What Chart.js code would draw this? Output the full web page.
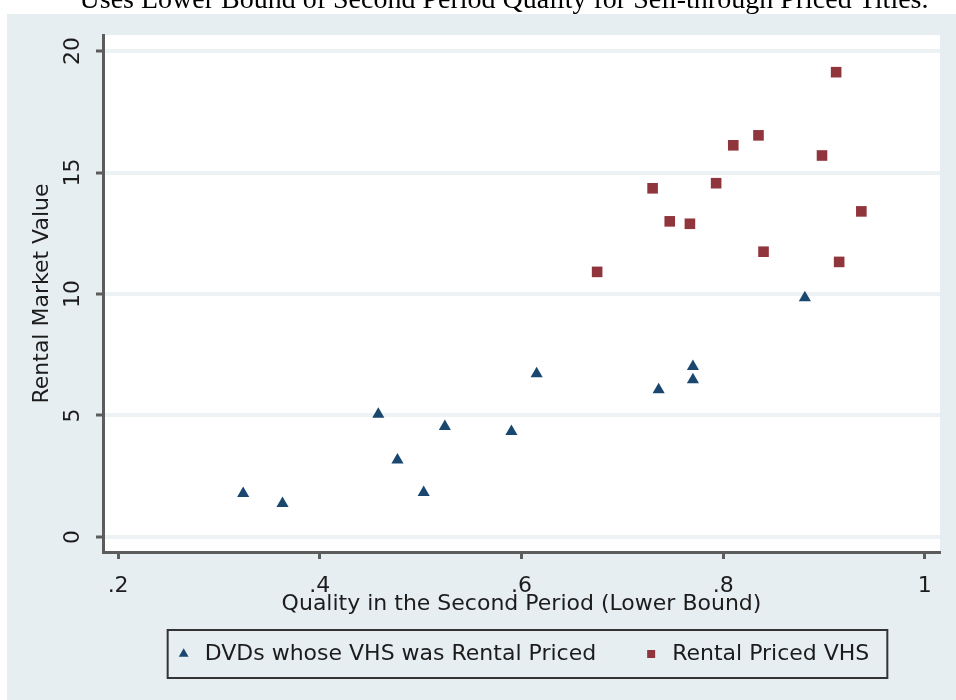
<!DOCTYPE html>
<html>
<head>
<meta charset="utf-8">
<script src="https://cdn.jsdelivr.net/npm/chart.js@4/dist/chart.umd.min.js"></script>
<style>
  html, body { margin: 0; padding: 0; background: #ffffff; }
  #wrap { width: 956px; height: 700px; }
</style>
</head>
<body>
<div id="wrap"><canvas id="scatterChart" width="956" height="700"></canvas></div>
<script>
// Data
const dvdQuality = [0.324, 0.363, 0.458, 0.477, 0.503, 0.524, 0.590, 0.615, 0.736, 0.770, 0.770, 0.881];
const dvdValue   = [1.79, 1.38, 5.05, 3.17, 1.83, 4.55, 4.34, 6.72, 6.06, 7.02, 6.47, 9.85];

const vhsQuality = [0.675, 0.730, 0.747, 0.767, 0.793, 0.810, 0.835, 0.840, 0.898, 0.912, 0.915, 0.937];
const vhsValue   = [10.91, 14.35, 12.99, 12.89, 14.56, 16.12, 16.53, 11.74, 15.70, 19.13, 11.32, 13.40];

const xTicks = [0.2, 0.4, 0.6, 0.8, 1.0];
const xTickLabels = ['.2', '.4', '.6', '.8', '1'];
const yTicks = [0, 5, 10, 15, 20];

const seriesNames = ['DVDs whose VHS was Rental Priced', 'Rental Priced VHS'];
const captionText = 'Uses Lower Bound of Second Period Quality for Sell-through Priced Titles.';

const navy = '#1a476f';
const maroon = '#90353b';
const frameBg = '#e6eef2';
const gridCol = '#edf2f5';
const axisCol = '#5c5c5c';
const textCol = '#1c1c1c';
const fontFam = "'DejaVu Sans', 'Verdana', sans-serif";

function toPoints(xs, ys) {
    return xs.map((x, i) => ({ x: x, y: ys[i] }));
}

// backgrounds + clipped caption at the very top
const backdrop = {
    id: 'backdrop',
    beforeDraw(chart) {
        const ctx = chart.ctx;
        const a = chart.chartArea;
        ctx.save();
        ctx.fillStyle = '#ffffff';
        ctx.fillRect(0, 0, chart.width, chart.height);
        ctx.fillStyle = frameBg;
        ctx.fillRect(7, 14, chart.width - 7, chart.height - 14);
        ctx.fillStyle = '#ffffff';
        ctx.fillRect(a.left, a.top, a.right - a.left, a.bottom - a.top);

        ctx.fillStyle = '#000000';
        ctx.font = "28px 'Liberation Serif', 'DejaVu Serif', serif";
        ctx.textAlign = 'center';
        ctx.textBaseline = 'alphabetic';
        ctx.fillText(captionText, 504, 8);
        ctx.restore();
    }
};

// framed legend like Stata's
const legendFrame = {
    id: 'legendFrame',
    afterDraw(chart) {
        const hb = chart.legend && chart.legend.legendHitBoxes;
        if (!hb || !hb.length) return;
        const first = hb[0];
        const last = hb[hb.length - 1];
        const left = first.left - 6;
        const right = last.left + last.width + 18;
        const top = first.top - 13;
        const bottom = first.top + first.height + 13;
        const ctx = chart.ctx;
        ctx.save();
        ctx.strokeStyle = '#333333';
        ctx.lineWidth = 2;
        ctx.strokeRect(left, top, right - left, bottom - top);
        ctx.restore();
    }
};

const scatterChart = new Chart(document.getElementById('scatterChart'), {
    type: 'scatter',
    data: {
        datasets: [
            {
                label: seriesNames[0],
                data: toPoints(dvdQuality, dvdValue),
                pointStyle: 'triangle',
                pointRadius: 7,
                pointHoverRadius: 7,
                backgroundColor: navy,
                borderColor: navy,
                borderWidth: 0
            },
            {
                label: seriesNames[1],
                data: toPoints(vhsQuality, vhsValue),
                pointStyle: 'rect',
                pointRadius: 7.5,
                pointHoverRadius: 7.5,
                backgroundColor: maroon,
                borderColor: maroon,
                borderWidth: 0
            }
        ]
    },
    plugins: [backdrop, legendFrame],
    options: {
        responsive: false,
        animation: false,
        devicePixelRatio: 1,
        layout: { padding: { left: 0, right: 16, top: 35, bottom: 25 } },
        plugins: {
            tooltip: { enabled: false },
            title: { display: false },
            legend: {
                display: true,
                position: 'bottom',
                fullSize: false,
                labels: {
                    usePointStyle: true,
                    boxWidth: 20,
                    boxHeight: 8,
                    padding: 45,
                    color: textCol,
                    font: { family: fontFam, size: 22 }
                }
            }
        },
        scales: {
            x: {
                type: 'linear',
                position: 'bottom',
                min: 0.185,
                max: 1.015,
                afterBuildTicks: s => { s.ticks = xTicks.map(v => ({ value: v })); },
                afterFit: s => { s.height = 46; },
                ticks: {
                    color: textCol,
                    padding: 14,
                    font: { family: fontFam, size: 22 },
                    maxRotation: 0,
                    callback: (v) => {
                        const i = xTicks.findIndex(t => Math.abs(t - v) < 1e-6);
                        return i >= 0 ? xTickLabels[i] : '';
                    }
                },
                grid: {
                    drawOnChartArea: false,
                    tickColor: axisCol,
                    tickWidth: 3,
                    tickLength: 7
                },
                border: { color: axisCol, width: 3 },
                title: {
                    display: true,
                    text: 'Quality in the Second Period (Lower Bound)',
                    color: textCol,
                    font: { family: fontFam, size: 22 },
                    padding: { top: 0, bottom: -19 }
                }
            },
            y: {
                type: 'linear',
                min: -0.62,
                max: 20.66,
                afterBuildTicks: s => { s.ticks = yTicks.map(v => ({ value: v })); },
                afterFit: s => { s.width = 103; },
                ticks: {
                    color: textCol,
                    padding: 9,
                    crossAlign: 'center',
                    minRotation: 90,
                    maxRotation: 90,
                    font: { family: fontFam, size: 22 }
                },
                grid: {
                    color: gridCol,
                    lineWidth: 4,
                    tickColor: axisCol,
                    tickWidth: 3,
                    tickLength: 7
                },
                border: { color: axisCol, width: 3 },
                title: {
                    display: true,
                    text: 'Rental Market Value',
                    color: textCol,
                    font: { family: fontFam, size: 22 },
                    padding: { top: 29, bottom: 0 }
                }
            }
        }
    }
});
</script>
</body>
</html>
